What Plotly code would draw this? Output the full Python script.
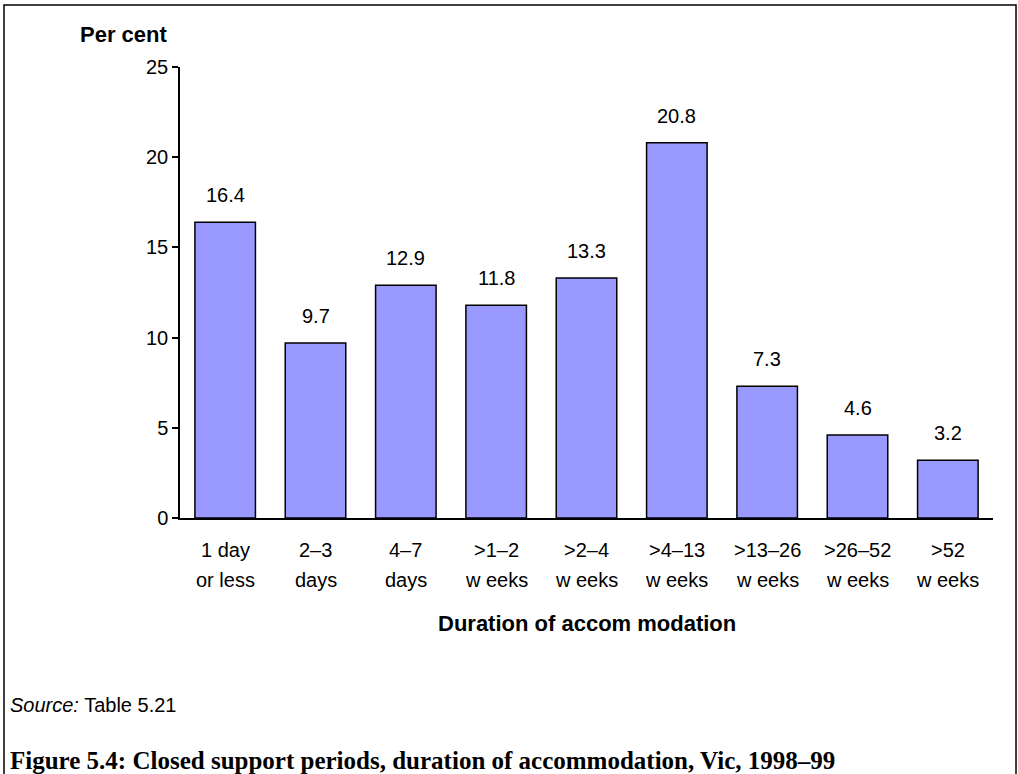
import plotly.graph_objects as go

# Duration of accommodation, closed support periods, Vic 1998-99
categories = ["1 day<br>or less", "2–3 days", "4–7 days", ">1–2 weeks", ">2–4 weeks",
              ">4–13 weeks", ">13–26 weeks", ">26–52 weeks", ">52 weeks"]
line1 = ["1 day", "2–3", "4–7", ">1–2", ">2–4", ">4–13", ">13–26", ">26–52", ">52"]
line2 = ["or less", "days", "days", "w eeks", "w eeks", "w eeks", "w eeks", "w eeks", "w eeks"]
per_cent = [16.4, 9.7, 12.9, 11.8, 13.3, 20.8, 7.3, 4.6, 3.2]
y_ticks = [0, 5, 10, 15, 20, 25]

FONT = "Liberation Sans, Arial, sans-serif"

fig = go.Figure()
fig.add_trace(go.Bar(
    x=categories, y=per_cent,
    marker_color="#9999FF",
    marker_line_color="black", marker_line_width=1.5,
    hoverinfo="skip",
))

# value labels above the bars
for cat, v in zip(categories, per_cent):
    fig.add_annotation(x=cat, y=v, text=f"{v:.1f}", showarrow=False,
                       xanchor="center", yanchor="middle", yshift=27,
                       font=dict(size=20, color="black"))

# two-line category labels under the axis
for cat, a, b in zip(categories, line1, line2):
    fig.add_annotation(x=cat, y=0, text=a, showarrow=False, xanchor="center",
                       yanchor="middle", yshift=-32, font=dict(size=20, color="black"))
    fig.add_annotation(x=cat, y=0, text=b, showarrow=False, xanchor="center",
                       yanchor="middle", yshift=-62, font=dict(size=20, color="black"))

fig.add_annotation(xref="paper", yref="paper", x=-0.070, y=1.071, text="<b>Per cent</b>",
                   xanchor="center", yanchor="middle",
                   showarrow=False, font=dict(size=22, color="black"))
fig.add_annotation(xref="paper", yref="paper", x=0.5006, y=-0.233,
                   text="<b>Duration of accom modation</b>",
                   xanchor="center", yanchor="middle",
                   showarrow=False, font=dict(size=22, color="black"))
fig.add_annotation(xref="paper", yref="paper", x=-0.2116, y=-0.4146,
                   xanchor="left", yanchor="middle",
                   text="<i>Source:</i> Table 5.21",
                   showarrow=False, font=dict(size=20, color="black"))
fig.add_annotation(xref="paper", yref="paper", x=-0.2116, y=-0.5366,
                   xanchor="left", yanchor="middle",
                   text="<b>Figure 5.4: Closed support periods, duration of accommodation, Vic, 1998–99</b>",
                   showarrow=False,
                   font=dict(size=25, color="black", family="Liberation Serif, Times New Roman, serif"))

# frame around the whole figure (bottom edge runs off the page)
fig.add_shape(type="rect", xref="paper", yref="paper",
              x0=-0.2165, x1=1.0283, y0=-0.62, y1=1.1375,
              line=dict(color="black", width=1.5), layer="below")

fig.update_layout(
    width=1018, height=774,
    margin=dict(l=180, r=25, t=67, b=256),
    paper_bgcolor="white", plot_bgcolor="white",
    font=dict(family=FONT, size=20, color="black"),
    bargap=0.33,
    showlegend=False,
)
fig.update_xaxes(showticklabels=False, showline=True, linecolor="black", linewidth=1.5,
                 ticks="", showgrid=False, zeroline=False)
fig.update_yaxes(range=[0, 25], tickvals=y_ticks, showline=True, linecolor="black",
                 linewidth=1.5, ticks="outside", ticklen=6, tickwidth=1.5, tickcolor="black",
                 showgrid=False, zeroline=False, tickfont=dict(size=20))

# drop the default 8px body margin so the figure sits at the page corner
fig.write_html("out.html", config={"displayModeBar": False},
               post_script="document.body.style.margin='0';")
